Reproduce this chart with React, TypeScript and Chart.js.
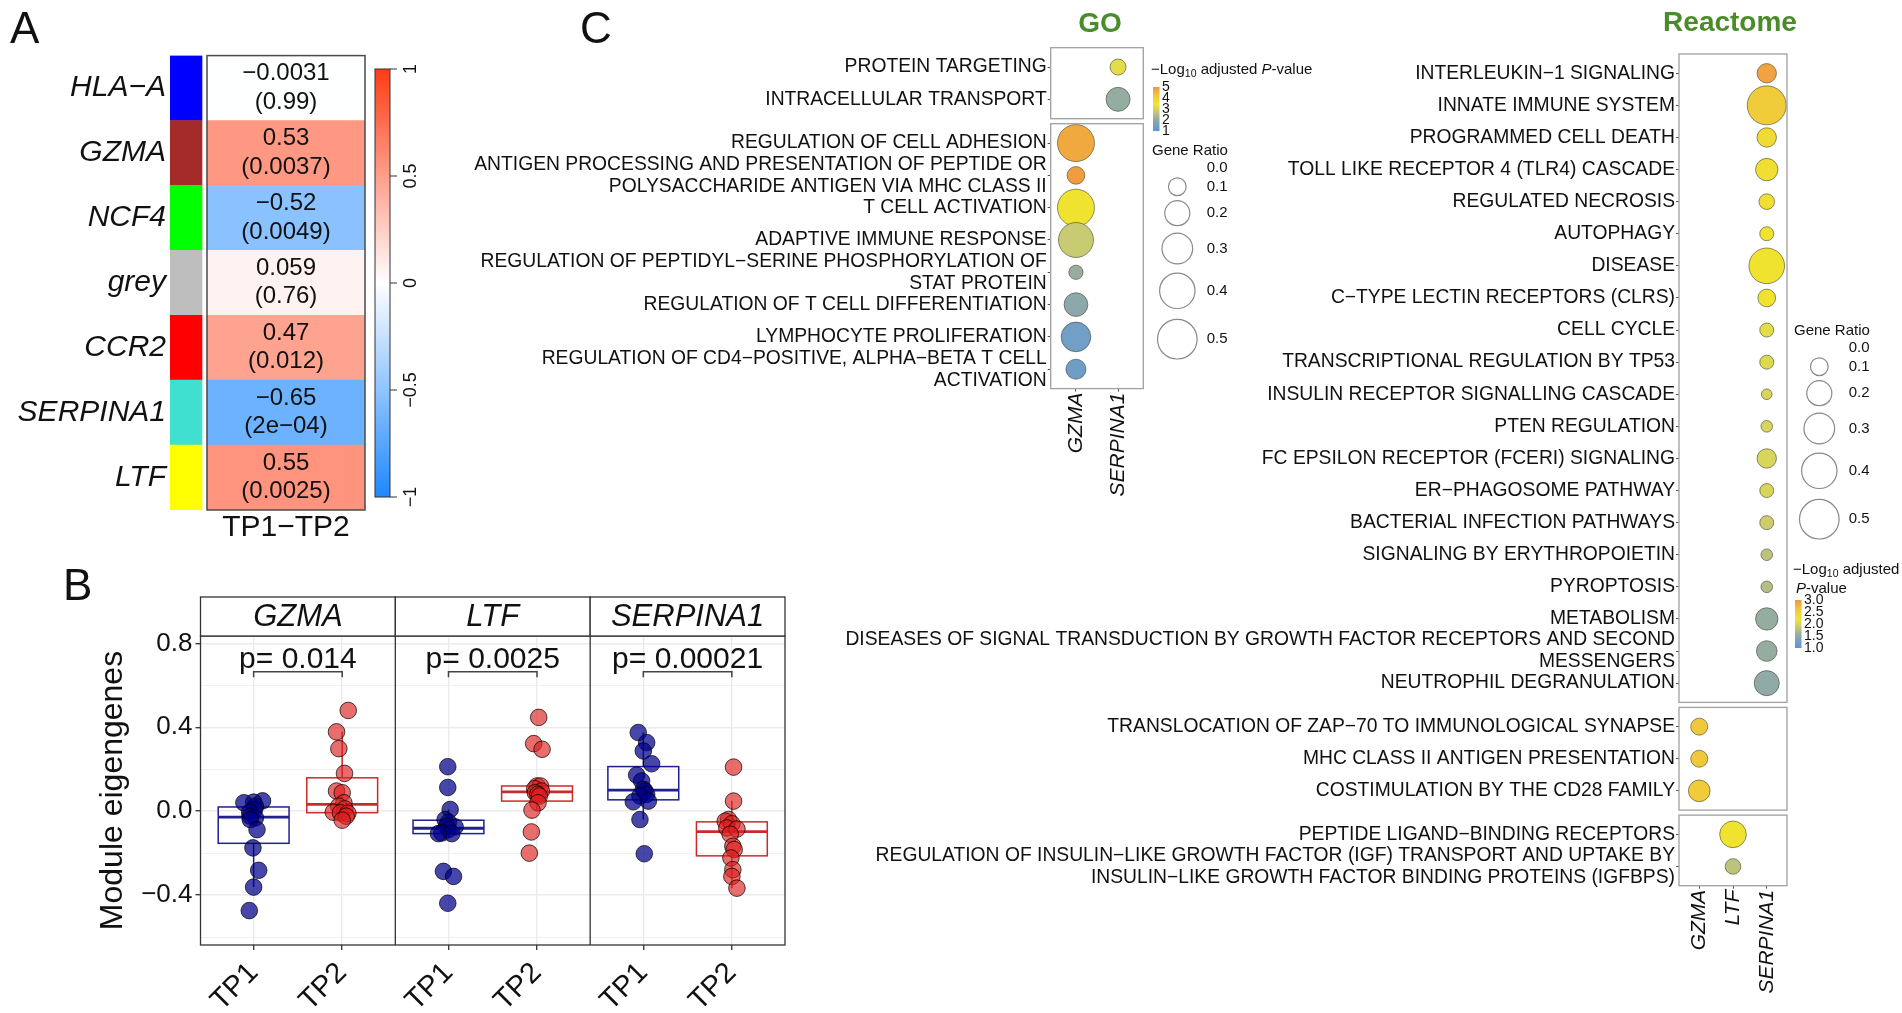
import React, { useEffect, useRef } from 'react';
import { Chart, registerables } from 'chart.js';

Chart.register(...registerables);

const FONT = '"Liberation Sans", Arial, Helvetica, sans-serif';
Chart.defaults.font.family = FONT;
Chart.defaults.color = '#111';

/* ================= Panel A data ================= */
const modules = ['HLA−A', 'GZMA', 'NCF4', 'grey', 'CCR2', 'SERPINA1', 'LTF'];
const moduleColors = ['#0000FF', '#A52A2A', '#00FF00', '#BEBEBE', '#FF0000', '#40E0D0', '#FFFF00'];
const moduleCorr = [-0.0031, 0.53, -0.52, 0.059, 0.47, -0.65, 0.55];
const modulePLabels = ['(0.99)', '(0.0037)', '(0.0049)', '(0.76)', '(0.012)', '(2e−04)', '(0.0025)'];
const traitName = 'TP1−TP2';
const corrBarTicks = [-1, -0.5, 0, 0.5, 1];

/* ================= Panel B data ================= */
const facetGenes = ['GZMA', 'LTF', 'SERPINA1'];
const timePoints = ['TP1', 'TP2'];
const facetPLabels = ['p= 0.014', 'p= 0.0025', 'p= 0.00021'];
const eigenMajorTicks = [-0.4, 0.0, 0.4, 0.8];
const eigenTitle = 'Module eigengenes';

const gzmaTP1 = [0.049, 0.043, 0.040, 0.024, 0.008, -0.005, -0.024, -0.032, -0.040, -0.088, -0.175, -0.282, -0.362, -0.474];
const gzmaTP1Jitter = [0.10, 0.00, -0.11, 0.02, 0.01, -0.045, -0.04, 0.02, -0.038, 0.038, -0.008, 0.057, 0.00, -0.049];
const gzmaTP2 = [0.480, 0.378, 0.298, 0.180, 0.096, 0.088, 0.040, 0.024, 0.011, -0.005, -0.008, -0.010, -0.024, -0.043];
const gzmaTP2Jitter = [0.068, -0.064, -0.038, 0.026, -0.064, 0.00, 0.019, -0.038, 0.03, -0.10, -0.019, 0.064, 0.045, 0.00];
const ltfTP1 = [0.212, 0.113, 0.008, -0.040, -0.053, -0.072, -0.075, -0.088, -0.104, -0.107, -0.107, -0.287, -0.311, -0.439];
const ltfTP1Jitter = [-0.008, -0.008, 0.019, -0.038, 0.00, -0.02, 0.075, 0.00, -0.075, 0.038, -0.113, -0.057, 0.057, -0.008];
const ltfTP2 = [0.447, 0.322, 0.295, 0.120, 0.120, 0.107, 0.096, 0.088, 0.080, 0.072, 0.040, 0.005, -0.099, -0.200];
const ltfTP2Jitter = [0.019, -0.038, 0.057, 0.00, 0.038, -0.026, 0.049, -0.019, 0.008, 0.026, 0.011, -0.057, -0.064, -0.087];
const serpTP1 = [0.375, 0.327, 0.287, 0.226, 0.172, 0.144, 0.104, 0.096, 0.080, 0.072, 0.048, 0.045, -0.040, -0.203];
const serpTP1Jitter = [-0.057, 0.038, 0.00, 0.094, -0.075, -0.019, 0.00, 0.019, 0.038, -0.038, 0.057, -0.113, -0.038, 0.011];
const serpTP2 = [0.210, 0.048, -0.040, -0.048, -0.060, -0.080, -0.085, -0.110, -0.167, -0.183, -0.223, -0.279, -0.311, -0.367];
const serpTP2Jitter = [0.019, 0.019, -0.038, -0.075, 0.00, -0.057, 0.057, -0.019, 0.011, 0.026, -0.011, 0.011, 0.00, 0.057];

/* ================= Panel C data ================= */
const goGenes = ['GZMA', 'SERPINA1'];
const goTopTerms = ['PROTEIN TARGETING', 'INTRACELLULAR TRANSPORT'];
const goTopGeneOf = ['SERPINA1', 'SERPINA1'];
const goTopRatio = [0.082, 0.184];
const goTopLogP = [3.2, 2.1];
const goBottomTerms: any[] = [
  'REGULATION OF CELL ADHESION',
  ['ANTIGEN PROCESSING AND PRESENTATION OF PEPTIDE OR', 'POLYSACCHARIDE ANTIGEN VIA MHC CLASS II'],
  'T CELL ACTIVATION',
  'ADAPTIVE IMMUNE RESPONSE',
  ['REGULATION OF PEPTIDYL−SERINE PHOSPHORYLATION OF', 'STAT PROTEIN'],
  'REGULATION OF T CELL DIFFERENTIATION',
  'LYMPHOCYTE PROLIFERATION',
  ['REGULATION OF CD4−POSITIVE, ALPHA−BETA T CELL', 'ACTIVATION'],
];
const goBottomGeneOf = ['GZMA', 'GZMA', 'GZMA', 'GZMA', 'GZMA', 'GZMA', 'GZMA', 'GZMA'];
const goBottomRatio = [0.437, 0.10, 0.437, 0.39, 0.065, 0.18, 0.28, 0.128];
const goBottomLogP = [4.7, 4.9, 3.6, 2.75, 2.15, 1.94, 1.45, 1.4];
const goColorTicks = [1, 2, 3, 4, 5];

const reactomeGenes = ['GZMA', 'LTF', 'SERPINA1'];
const reMainTerms: any[] = [
  'INTERLEUKIN−1 SIGNALING', 'INNATE IMMUNE SYSTEM', 'PROGRAMMED CELL DEATH',
  'TOLL LIKE RECEPTOR 4 (TLR4) CASCADE', 'REGULATED NECROSIS', 'AUTOPHAGY', 'DISEASE',
  'C−TYPE LECTIN RECEPTORS (CLRS)', 'CELL CYCLE', 'TRANSCRIPTIONAL REGULATION BY TP53',
  'INSULIN RECEPTOR SIGNALLING CASCADE', 'PTEN REGULATION', 'FC EPSILON RECEPTOR (FCERI) SIGNALING',
  'ER−PHAGOSOME PATHWAY', 'BACTERIAL INFECTION PATHWAYS', 'SIGNALING BY ERYTHROPOIETIN',
  'PYROPTOSIS', 'METABOLISM',
  ['DISEASES OF SIGNAL TRANSDUCTION BY GROWTH FACTOR RECEPTORS AND SECOND', 'MESSENGERS'],
  'NEUTROPHIL DEGRANULATION',
];
const reMainGeneOf = reMainTerms.map(() => 'SERPINA1');
const reMainRatio = [0.12, 0.485, 0.12, 0.16, 0.078, 0.0625, 0.405, 0.10, 0.0625, 0.0625, 0.036, 0.043, 0.12, 0.0625, 0.0625, 0.043, 0.043, 0.16, 0.136, 0.20];
const reMainLogP = [2.9, 2.55, 2.4, 2.35, 2.35, 2.3, 2.3, 2.3, 2.1, 2.05, 2.0, 2.0, 2.0, 2.0, 1.9, 1.8, 1.75, 1.55, 1.55, 1.5];
const reMidTerms = ['TRANSLOCATION OF ZAP−70 TO IMMUNOLOGICAL SYNAPSE', 'MHC CLASS II ANTIGEN PRESENTATION', 'COSTIMULATION BY THE CD28 FAMILY'];
const reMidGeneOf = ['GZMA', 'GZMA', 'GZMA'];
const reMidRatio = [0.092, 0.092, 0.15];
const reMidLogP = [2.6, 2.6, 2.55];
const reLowTerms: any[] = [
  'PEPTIDE LIGAND−BINDING RECEPTORS',
  ['REGULATION OF INSULIN−LIKE GROWTH FACTOR (IGF) TRANSPORT AND UPTAKE BY', 'INSULIN−LIKE GROWTH FACTOR BINDING PROTEINS (IGFBPS)'],
];
const reLowGeneOf = ['LTF', 'LTF'];
const reLowRatio = [0.227, 0.078];
const reLowLogP = [2.3, 1.8];
const reColorTicks = [1.0, 1.5, 2.0, 2.5, 3.0];
const ratioLegendBreaks = [0.0, 0.1, 0.2, 0.3, 0.4, 0.5];

/* ================= styles / helpers ================= */
const GRAD_STOPS: any[] = [
  [0, [88, 150, 222]], [0.28, [150, 172, 160]], [0.45, [205, 205, 110]],
  [0.62, [240, 232, 45]], [0.8, [240, 200, 60]], [1, [240, 150, 65]],
];
function gradColor(t: number) {
  t = Math.max(0, Math.min(1, t));
  for (let i = 1; i < GRAD_STOPS.length; i++) {
    const [t0, c0] = GRAD_STOPS[i - 1];
    const [t1, c1] = GRAD_STOPS[i];
    if (t <= t1) {
      const f = (t - t0) / (t1 - t0);
      return 'rgb(' + c0.map((c: number, k: number) => Math.round(c + (c1[k] - c) * f)).join(',') + ')';
    }
  }
  return 'rgb(240,150,65)';
}
function corrColor(v: number) {
  const t = Math.min(1, Math.abs(v));
  const end = v >= 0 ? [255, 60, 20] : [30, 136, 255];
  return 'rgb(' + end.map((e) => Math.round(255 + (e - 255) * t)).join(',') + ')';
}
const fmtCorr = (v: number) => v.toPrecision(2).replace('-', '−');
const sizeFor = (ratio: number) => 28 * Math.sqrt(ratio);

function quantile7(s: number[], p: number) {
  const h = (s.length - 1) * p;
  const lo = Math.floor(h);
  const hi = Math.min(lo + 1, s.length - 1);
  return s[lo] + (h - lo) * (s[hi] - s[lo]);
}
function boxStats(values: number[]) {
  const s = [...values].sort((a, b) => a - b);
  const q1 = quantile7(s, 0.25), med = quantile7(s, 0.5), q3 = quantile7(s, 0.75);
  const iqr = q3 - q1;
  const lo = Math.min(...s.filter((v) => v >= q1 - 1.5 * iqr));
  const hi = Math.max(...s.filter((v) => v <= q3 + 1.5 * iqr));
  return { q1, med, q3, lo, hi };
}

function baseOptions(padding: any) {
  return {
    responsive: false,
    animation: false,
    events: [],
    layout: { padding },
    plugins: { legend: { display: false }, tooltip: { enabled: false }, title: { display: false } },
  };
}

/* ================= Panel A charts ================= */
function makeHeatmap() {
  const W = 440, H = 560;
  const area = { left: 170, top: 55.6, right: 365, bottom: 510 };
  const STRIP = [0, 32];
  const CELL = [37, 195];
  const txt = {
    id: 'heatText',
    afterDatasetsDraw(chart: any) {
      const { ctx, chartArea, scales } = chart;
      const x0 = scales.x.getPixelForValue(CELL[0]);
      const x1 = scales.x.getPixelForValue(CELL[1]);
      const cx = (x0 + x1) / 2;
      ctx.save();
      ctx.fillStyle = '#111';
      ctx.textAlign = 'center';
      ctx.textBaseline = 'middle';
      ctx.font = `24px ${FONT}`;
      modules.forEach((_m, i) => {
        const cy = scales.y.getPixelForValue(i);
        ctx.fillText(fmtCorr(moduleCorr[i]), cx, cy - 14.5);
        ctx.fillText(modulePLabels[i], cx, cy + 14);
      });
      ctx.strokeStyle = '#4a4a4a';
      ctx.lineWidth = 1.5;
      ctx.strokeRect(x0, chartArea.top, x1 - x0, chartArea.bottom - chartArea.top);
      ctx.font = `30px ${FONT}`;
      ctx.fillText(traitName, cx, 528);
      ctx.restore();
    },
  };
  return {
    type: 'bar',
    data: {
      labels: modules,
      datasets: [
        { data: modules.map(() => STRIP), backgroundColor: moduleColors, grouped: false, barPercentage: 1, categoryPercentage: 1, borderWidth: 0 },
        { data: moduleCorr.map(() => CELL), backgroundColor: moduleCorr.map(corrColor), grouped: false, barPercentage: 1, categoryPercentage: 1, borderWidth: 0 },
      ],
    },
    options: {
      ...baseOptions({ left: 0, top: area.top, right: W - area.right, bottom: H - area.bottom }),
      indexAxis: 'y',
      scales: {
        x: { type: 'linear', min: 0, max: 195, display: false },
        y: {
          type: 'category',
          grid: { display: false, drawTicks: false },
          border: { display: false },
          ticks: { font: { size: 30, style: 'italic' }, color: '#111', padding: 4 },
          afterFit: (s: any) => { s.width = area.left; },
        },
      },
    },
    plugins: [txt],
  };
}

function makeCorrBar() {
  const W = 80, H = 470;
  const deco = {
    id: 'cbDeco',
    afterDraw(chart: any) {
      const { ctx, chartArea: a, scales } = chart;
      ctx.save();
      ctx.strokeStyle = '#333';
      ctx.lineWidth = 1;
      ctx.strokeRect(a.left, a.top, a.right - a.left, a.bottom - a.top);
      ctx.fillStyle = '#111';
      ctx.font = `18px ${FONT}`;
      ctx.textAlign = 'center';
      ctx.textBaseline = 'middle';
      corrBarTicks.forEach((v) => {
        const y = scales.y.getPixelForValue(v);
        ctx.beginPath();
        ctx.moveTo(a.right, y);
        ctx.lineTo(a.right + 7, y);
        ctx.stroke();
        ctx.save();
        ctx.translate(a.right + 21.5, y);
        ctx.rotate(-Math.PI / 2);
        ctx.fillText(String(v).replace('-', '−'), 0, 0);
        ctx.restore();
      });
      ctx.restore();
    },
  };
  return {
    type: 'bar',
    data: {
      labels: [''],
      datasets: [{
        data: [[-1, 1]],
        barPercentage: 1,
        categoryPercentage: 1,
        borderWidth: 0,
        backgroundColor: (c: any) => {
          const ch = c.chart;
          const a = ch.chartArea;
          if (!a) return '#fff';
          const g = ch.ctx.createLinearGradient(0, a.bottom, 0, a.top);
          for (let k = 0; k <= 20; k++) g.addColorStop(k / 20, corrColor(-1 + k / 10));
          return g;
        },
      }],
    },
    options: {
      ...baseOptions({ left: 15, right: W - 30, top: 19, bottom: H - 447 }),
      scales: { x: { display: false }, y: { display: false, min: -1, max: 1 } },
    },
    plugins: [deco],
  };
}

/* ================= Panel B chart ================= */
function makeBoxPanel() {
  const W = 800, H = 453;
  const area = { left: 200.5, top: 76, right: 785, bottom: 385 };
  const stripTop = 37;
  const span = 2.2;
  const gx = (f: number, t: number) => 1 + f * span + t;
  const groups = [
    { f: 0, t: 0, v: gzmaTP1, j: gzmaTP1Jitter },
    { f: 0, t: 1, v: gzmaTP2, j: gzmaTP2Jitter },
    { f: 1, t: 0, v: ltfTP1, j: ltfTP1Jitter },
    { f: 1, t: 1, v: ltfTP2, j: ltfTP2Jitter },
    { f: 2, t: 0, v: serpTP1, j: serpTP1Jitter },
    { f: 2, t: 1, v: serpTP2, j: serpTP2Jitter },
  ];
  const fill = ['rgba(0,0,139,0.72)', 'rgba(220,30,30,0.65)'];
  const line = ['#20208f', '#cc2a2a'];
  const isMajor = (v: number) => eigenMajorTicks.some((m) => Math.abs(m - v) < 1e-9);
  const yTicks = [...eigenMajorTicks, ...eigenMajorTicks.map((v) => v - 0.2)].sort((a, b) => a - b);
  const xTicks = [0, 1, 2].flatMap((f) => [gx(f, 0), gx(f, 1)]);

  const boxes = {
    id: 'boxes',
    beforeDatasetsDraw(chart: any) {
      const { ctx, scales: { x, y } } = chart;
      ctx.save();
      groups.forEach((g) => {
        const s = boxStats(g.v);
        const c = gx(g.f, g.t);
        const xl = x.getPixelForValue(c - 0.4), xr = x.getPixelForValue(c + 0.4), xc = x.getPixelForValue(c);
        ctx.strokeStyle = line[g.t];
        ctx.lineWidth = 1.5;
        ctx.beginPath();
        ctx.moveTo(xc, y.getPixelForValue(s.q3));
        ctx.lineTo(xc, y.getPixelForValue(s.hi));
        ctx.moveTo(xc, y.getPixelForValue(s.q1));
        ctx.lineTo(xc, y.getPixelForValue(s.lo));
        ctx.stroke();
        const yt = y.getPixelForValue(s.q3), yb = y.getPixelForValue(s.q1);
        ctx.strokeRect(xl, yt, xr - xl, yb - yt);
        ctx.lineWidth = 2.8;
        ctx.beginPath();
        ctx.moveTo(xl, y.getPixelForValue(s.med));
        ctx.lineTo(xr, y.getPixelForValue(s.med));
        ctx.stroke();
      });
      ctx.restore();
    },
  };

  const deco = {
    id: 'deco',
    afterDraw(chart: any) {
      const { ctx, chartArea: a, scales: { x, y } } = chart;
      ctx.save();
      ctx.strokeStyle = '#333';
      ctx.lineWidth = 1.3;
      ctx.strokeRect(a.left, a.top, a.right - a.left, a.bottom - a.top);
      for (let f = 1; f < facetGenes.length; f++) {
        const px = x.getPixelForValue(0.4 + f * span);
        ctx.beginPath();
        ctx.moveTo(px, stripTop);
        ctx.lineTo(px, a.bottom);
        ctx.stroke();
      }
      facetGenes.forEach((g, f) => {
        const x0 = x.getPixelForValue(0.4 + f * span), x1 = x.getPixelForValue(0.4 + (f + 1) * span);
        ctx.fillStyle = '#fff';
        ctx.fillRect(x0, stripTop, x1 - x0, a.top - stripTop);
        ctx.strokeStyle = '#333';
        ctx.lineWidth = 1.3;
        ctx.strokeRect(x0, stripTop, x1 - x0, a.top - stripTop);
        ctx.fillStyle = '#111';
        ctx.font = `italic 31px ${FONT}`;
        ctx.textAlign = 'center';
        ctx.textBaseline = 'middle';
        ctx.fillText(g, (x0 + x1) / 2, (stripTop + a.top) / 2 + 1);

        const bx0 = x.getPixelForValue(gx(f, 0)), bx1 = x.getPixelForValue(gx(f, 1));
        const by = y.getPixelForValue(0.664), bt = y.getPixelForValue(0.638);
        ctx.strokeStyle = '#444';
        ctx.lineWidth = 1.5;
        ctx.beginPath();
        ctx.moveTo(bx0, bt);
        ctx.lineTo(bx0, by);
        ctx.lineTo(bx1, by);
        ctx.lineTo(bx1, bt);
        ctx.stroke();
        ctx.font = `30px ${FONT}`;
        ctx.textBaseline = 'alphabetic';
        ctx.fillText(facetPLabels[f], (bx0 + bx1) / 2, y.getPixelForValue(0.683));
      });
      ctx.translate(113, (a.top + a.bottom) / 2);
      ctx.rotate(-Math.PI / 2);
      ctx.font = `32px ${FONT}`;
      ctx.textAlign = 'center';
      ctx.textBaseline = 'middle';
      ctx.fillStyle = '#111';
      ctx.fillText(eigenTitle, 0, 0);
      ctx.restore();
    },
  };

  return {
    type: 'scatter',
    data: {
      datasets: groups.map((g) => ({
        data: g.v.map((v, i) => ({ x: gx(g.f, g.t) + g.j[i], y: v })),
        pointRadius: 8.3,
        backgroundColor: fill[g.t],
        borderColor: 'rgba(0,0,0,0.7)',
        borderWidth: 1,
        showLine: false,
      })),
    },
    options: {
      ...baseOptions({ left: 0, top: area.top, right: W - area.right, bottom: 0 }),
      scales: {
        x: {
          type: 'linear', min: 0.4, max: 0.4 + span * 3,
          afterBuildTicks: (s: any) => { s.ticks = xTicks.map((v) => ({ value: v })); },
          afterFit: (s: any) => { s.height = H - area.bottom; },
          ticks: { autoSkip: false, minRotation: 45, maxRotation: 45, font: { size: 29 }, color: '#111', padding: 6, callback: (_v: any, i: number) => timePoints[i % 2] },
          grid: { color: '#ebebeb', lineWidth: 1.4, tickColor: '#333', tickLength: 5, tickWidth: 1.3 },
          border: { display: false },
        },
        y: {
          type: 'linear', min: -0.638, max: 0.835,
          afterBuildTicks: (s: any) => { s.ticks = yTicks.map((v) => ({ value: v })); },
          afterFit: (s: any) => { s.width = area.left; },
          ticks: { autoSkip: false, font: { size: 26 }, color: '#111', padding: 3, callback: (v: number) => (isMajor(v) ? v.toFixed(1).replace('-', '−') : '') },
          grid: {
            color: '#ebebeb',
            lineWidth: (c: any) => (c.tick && isMajor(c.tick.value) ? 1.4 : 0.7),
            tickColor: (c: any) => (c.tick && isMajor(c.tick.value) ? '#333' : 'rgba(0,0,0,0)'),
            tickLength: 5,
            tickWidth: 1.3,
          },
          border: { display: false },
        },
      },
    },
    plugins: [boxes, deco],
  };
}

/* ================= Panel C charts ================= */
function drawSizeLegend(ctx: any, x: number, titleY: number) {
  ctx.save();
  ctx.fillStyle = '#111';
  ctx.textAlign = 'left';
  ctx.textBaseline = 'middle';
  ctx.font = `15px ${FONT}`;
  ctx.fillText('Gene Ratio', x, titleY);
  let y = titleY + 17.3;
  let prevR = 0;
  ratioLegendBreaks.forEach((v, i) => {
    const r = sizeFor(v);
    if (i > 0) y += Math.max(18.4, 1.36 * (prevR + r) - 2.6);
    if (r > 0) {
      ctx.beginPath();
      ctx.arc(x + 25.3, y, r, 0, Math.PI * 2);
      ctx.strokeStyle = '#8a8a8a';
      ctx.lineWidth = 1.2;
      ctx.stroke();
    }
    ctx.fillText(v.toFixed(1), x + 54.7, y);
    prevR = r;
  });
  ctx.restore();
}

function drawColorLegend(ctx: any, o: any) {
  ctx.save();
  ctx.fillStyle = '#111';
  ctx.textAlign = 'left';
  ctx.textBaseline = 'middle';
  let x = o.titleX;
  let y = o.titleY;
  const seg = (t: string, size: number, italic = false, dy = 0) => {
    ctx.font = `${italic ? 'italic ' : ''}${size}px ${FONT}`;
    ctx.fillText(t, x, y + dy);
    x += ctx.measureText(t).width;
  };
  seg('−Log', 15);
  seg('10', 10.5, false, 4);
  if (o.twoLine) {
    seg(' adjusted', 15);
    x = o.titleX + 3;
    y = o.titleY + 19;
  } else {
    seg(' adjusted ', 15);
  }
  seg('P', 15, true);
  seg('-value', 15);
  const g = ctx.createLinearGradient(0, o.barBottom, 0, o.barTop);
  for (let k = 0; k <= 10; k++) g.addColorStop(k / 10, gradColor(k / 10));
  ctx.fillStyle = g;
  ctx.fillRect(o.barX, o.barTop, 6.5, o.barBottom - o.barTop);
  ctx.fillStyle = '#111';
  ctx.font = `14px ${FONT}`;
  const d0 = o.ticks[0], d1 = o.ticks[o.ticks.length - 1];
  o.ticks.forEach((v: number) => {
    const yy = o.barBottom - ((v - d0) / (d1 - d0)) * (o.barBottom - o.barTop);
    ctx.fillText(o.fmt(v), o.labelX, yy);
  });
  ctx.restore();
}

function drawPanelTitle(ctx: any, text: string, x: number, y: number) {
  ctx.save();
  ctx.fillStyle = '#4a8c2a';
  ctx.font = `bold 28px ${FONT}`;
  ctx.textAlign = 'center';
  ctx.textBaseline = 'middle';
  ctx.fillText(text, x, y);
  ctx.restore();
}

function makeDot(spec: any) {
  const { terms, genes, area, W, H, showX } = spec;
  const data = terms.map((_t: any, i: number) => ({ x: genes.indexOf(spec.geneOf[i]), y: i, r: sizeFor(spec.ratio[i]) }));
  const d0 = spec.colorTicks[0], d1 = spec.colorTicks[spec.colorTicks.length - 1];
  const colors = spec.logp.map((v: number) => gradColor((v - d0) / (d1 - d0)));
  const border = {
    id: 'panelBorder',
    afterDatasetsDraw(chart: any) {
      const { ctx, chartArea: a } = chart;
      ctx.save();
      ctx.strokeStyle = '#a0a0a0';
      ctx.lineWidth = 1.3;
      ctx.strokeRect(a.left, a.top, a.right - a.left, a.bottom - a.top);
      ctx.restore();
    },
  };
  const xScale: any = {
    type: 'linear', min: -0.6, max: genes.length - 0.4, display: showX,
    afterBuildTicks: (s: any) => { s.ticks = genes.map((_g: any, i: number) => ({ value: i })); },
    ticks: { autoSkip: false, minRotation: 90, maxRotation: 90, padding: 1, color: '#111', font: { size: 21, style: 'italic' }, callback: (v: number) => genes[v] },
    grid: { drawOnChartArea: false, tickLength: 3, tickColor: '#555' },
    border: { display: false },
  };
  if (showX) xScale.afterFit = (s: any) => { s.height = H - area.bottom; };
  return {
    type: 'bubble',
    data: {
      datasets: [{ data, backgroundColor: colors, borderColor: 'rgba(70,70,50,0.6)', borderWidth: 1, clip: false }],
    },
    options: {
      ...baseOptions({ left: 0, top: area.top, right: W - area.right, bottom: showX ? 0 : H - area.bottom }),
      scales: {
        x: xScale,
        y: {
          type: 'linear', reverse: true, min: -0.6, max: terms.length - 0.4,
          afterBuildTicks: (s: any) => { s.ticks = terms.map((_t: any, i: number) => ({ value: i })); },
          afterFit: (s: any) => { s.width = area.left; },
          ticks: { autoSkip: false, padding: 1, color: '#111', font: { size: 19.3, lineHeight: 1.14 }, callback: (v: number) => terms[v] },
          grid: { drawOnChartArea: false, tickLength: 3, tickColor: '#555' },
          border: { display: false },
        },
      },
    },
    plugins: [border, ...(spec.extra ? [spec.extra] : [])],
  };
}

const GO_LEFT = 400, GO_W = 930, GO_H = 520;
const RE_LEFT = 780, RE_W = 1122, RE_H = 1013;

function makeGoTop() {
  const legend = {
    id: 'goLegend',
    afterDraw(chart: any) {
      const ctx = chart.ctx;
      ctx.save();
      ctx.translate(-GO_LEFT, 0);
      drawPanelTitle(ctx, 'GO', 1100, 24);
      drawColorLegend(ctx, { titleX: 1151, titleY: 70, twoLine: false, barX: 1153, barTop: 87, barBottom: 131, labelX: 1162, ticks: goColorTicks, fmt: (v: number) => String(v) });
      drawSizeLegend(ctx, 1152, 151);
      ctx.restore();
    },
  };
  return makeDot({
    terms: goTopTerms, genes: goGenes, geneOf: goTopGeneOf, ratio: goTopRatio, logp: goTopLogP, colorTicks: goColorTicks,
    area: { left: 1050.7 - GO_LEFT, top: 47.7, right: 1143.3 - GO_LEFT, bottom: 118.7 }, W: GO_W, H: GO_H, showX: false, extra: legend,
  });
}
function makeGoBottom() {
  return makeDot({
    terms: goBottomTerms, genes: goGenes, geneOf: goBottomGeneOf, ratio: goBottomRatio, logp: goBottomLogP, colorTicks: goColorTicks,
    area: { left: 1050.7 - GO_LEFT, top: 123.7, right: 1143.3 - GO_LEFT, bottom: 388.6 }, W: GO_W, H: GO_H, showX: true,
  });
}
function makeReMain() {
  const legend = {
    id: 'reLegend',
    afterDraw(chart: any) {
      const ctx = chart.ctx;
      ctx.save();
      ctx.translate(-RE_LEFT, 0);
      drawPanelTitle(ctx, 'Reactome', 1730, 23);
      drawSizeLegend(ctx, 1794, 331);
      drawColorLegend(ctx, { titleX: 1793, titleY: 570, twoLine: true, barX: 1795, barTop: 600, barBottom: 648, labelX: 1804, ticks: reColorTicks, fmt: (v: number) => v.toFixed(1) });
      ctx.restore();
    },
  };
  return makeDot({
    terms: reMainTerms, genes: reactomeGenes, geneOf: reMainGeneOf, ratio: reMainRatio, logp: reMainLogP, colorTicks: reColorTicks,
    area: { left: 1679 - RE_LEFT, top: 54, right: 1787 - RE_LEFT, bottom: 702.4 }, W: RE_W, H: RE_H, showX: false, extra: legend,
  });
}
function makeReMid() {
  return makeDot({
    terms: reMidTerms, genes: reactomeGenes, geneOf: reMidGeneOf, ratio: reMidRatio, logp: reMidLogP, colorTicks: reColorTicks,
    area: { left: 1679 - RE_LEFT, top: 707.4, right: 1787 - RE_LEFT, bottom: 810.1 }, W: RE_W, H: RE_H, showX: false,
  });
}
function makeReLow() {
  return makeDot({
    terms: reLowTerms, genes: reactomeGenes, geneOf: reLowGeneOf, ratio: reLowRatio, logp: reLowLogP, colorTicks: reColorTicks,
    area: { left: 1679 - RE_LEFT, top: 815.1, right: 1787 - RE_LEFT, bottom: 885.7 }, W: RE_W, H: RE_H, showX: true,
  });
}

/* ================= components ================= */
function ChartCanvas(props: { left: number; top: number; width: number; height: number; make: () => any }) {
  const ref = useRef<HTMLCanvasElement | null>(null);
  useEffect(() => {
    if (!ref.current) return;
    const chart = new Chart(ref.current, props.make());
    return () => chart.destroy();
  }, []);
  return (
    <canvas
      ref={ref}
      width={props.width}
      height={props.height}
      style={{ position: 'absolute', left: props.left, top: props.top, width: props.width, height: props.height }}
    />
  );
}

const letterStyle = (left: number, top: number): any => ({
  position: 'absolute', left, top, fontSize: 44, lineHeight: '44px', fontFamily: FONT, color: '#111',
});

export default function App() {
  return (
    <div style={{ position: 'absolute', left: 0, top: 0, width: 1902, height: 1013, background: '#fff', overflow: 'hidden' }}>
      <ChartCanvas left={0} top={0} width={440} height={560} make={makeHeatmap} />
      <ChartCanvas left={360} top={50} width={80} height={470} make={makeCorrBar} />
      <ChartCanvas left={0} top={560} width={800} height={453} make={makeBoxPanel} />
      <ChartCanvas left={GO_LEFT} top={0} width={GO_W} height={GO_H} make={makeGoTop} />
      <ChartCanvas left={GO_LEFT} top={0} width={GO_W} height={GO_H} make={makeGoBottom} />
      <ChartCanvas left={RE_LEFT} top={0} width={RE_W} height={RE_H} make={makeReMain} />
      <ChartCanvas left={RE_LEFT} top={0} width={RE_W} height={RE_H} make={makeReMid} />
      <ChartCanvas left={RE_LEFT} top={0} width={RE_W} height={RE_H} make={makeReLow} />
      <div style={letterStyle(10, 6)}>A</div>
      <div style={letterStyle(63, 563)}>B</div>
      <div style={letterStyle(580, 6)}>C</div>
    </div>
  );
}
